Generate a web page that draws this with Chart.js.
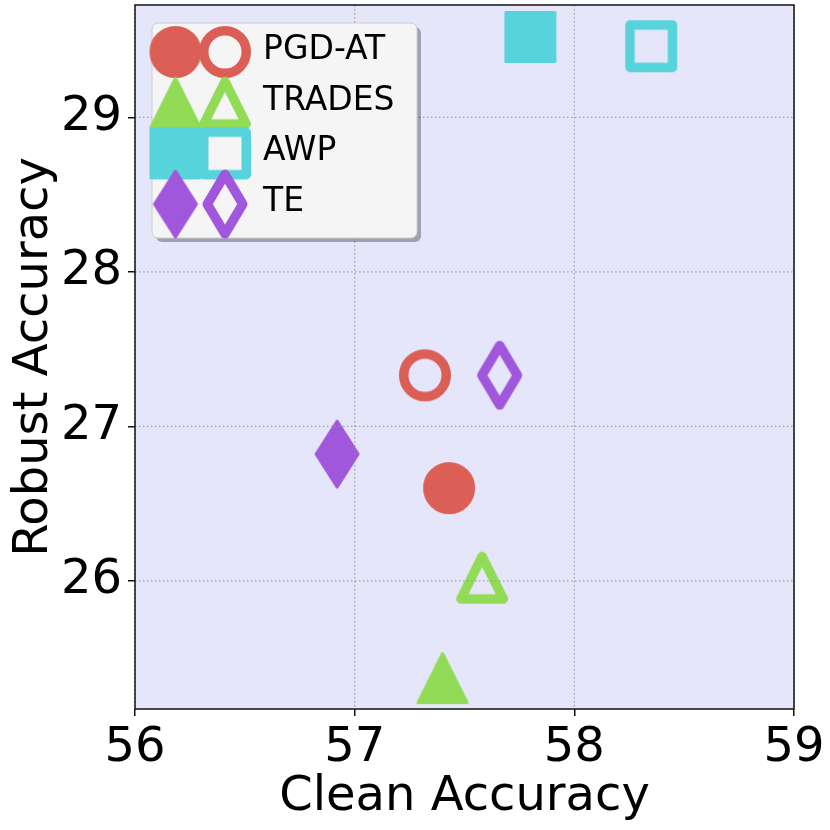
<!DOCTYPE html>
<html lang="en">
<head>
    <meta charset="UTF-8">
    <title>Clean vs Robust Accuracy</title>
    <script src="https://cdn.jsdelivr.net/npm/chart.js"></script>
    <style>
        body {
            margin: 0;
            background: white;
        }

        .chart-box {
            width: 830px;
            height: 830px;
        }
    </style>
</head>
<body>
    <div class="chart-box">
        <canvas id="accChart"></canvas>
    </div>

    <script>
// data
const methods = ['PGD-AT', 'TRADES', 'AWP', 'TE'];
const colors = ['#db5f57', '#91db57', '#57d3db', '#a157db'];
const shapes = ['circle', 'triangle', 'square', 'diamond'];
const baseClean = [57.43, 57.40, 57.80, 56.92];
const baseRobust = [26.60, 25.37, 29.52, 26.82];
const oursClean = [57.32, 57.58, 58.35, 57.66];
const oursRobust = [27.33, 26.02, 29.46, 27.33];
const xTicks = [56, 57, 58, 59];
const yTicks = [26, 27, 28, 29];

const FONT = 'DejaVu Sans';

// matplotlib-like markers drawn once into small canvases
function makeMarker(shape, color, filled) {
    const c = document.createElement('canvas');
    c.width = 80;
    c.height = 80;
    const g = c.getContext('2d');
    g.translate(40, 40);
    g.lineJoin = 'round';
    g.strokeStyle = color;
    g.fillStyle = color;
    const lw = filled ? 3 : 9.5;
    g.lineWidth = lw;
    const ow = shape === 'diamond' ? 45 : 52;
    const oh = shape === 'diamond' ? 69 : 52;
    const hx = (ow - lw) / 2, hy = (oh - lw) / 2;
    g.beginPath();
    if (shape === 'circle') {
        g.arc(0, 0, hx, 0, Math.PI * 2);
    } else if (shape === 'triangle') {
        g.moveTo(0, -hy);
        g.lineTo(hx, hy);
        g.lineTo(-hx, hy);
        g.closePath();
    } else if (shape === 'square') {
        g.rect(-hx, -hy, hx * 2, hy * 2);
    } else {
        g.moveTo(0, -hy);
        g.lineTo(hx, 0);
        g.lineTo(0, hy);
        g.lineTo(-hx, 0);
        g.closePath();
    }
    if (filled) g.fill();
    g.stroke();
    return c;
}

const filledMarks = shapes.map((s, i) => makeMarker(s, colors[i], true));
const openMarks = shapes.map((s, i) => makeMarker(s, colors[i], false));

// lavender plot background
const plotBg = {
    id: 'plotBg',
    beforeDraw(chart) {
        const { ctx, chartArea: a } = chart;
        ctx.save();
        ctx.fillStyle = '#e6e6fa';
        ctx.fillRect(a.left, a.top, a.right - a.left, a.bottom - a.top);
        ctx.restore();
    }
};

function roundRect(ctx, x, y, w, h, r) {
    ctx.beginPath();
    ctx.moveTo(x + r, y);
    ctx.arcTo(x + w, y, x + w, y + h, r);
    ctx.arcTo(x + w, y + h, x, y + h, r);
    ctx.arcTo(x, y + h, x, y, r);
    ctx.arcTo(x, y, x + w, y, r);
    ctx.closePath();
}

// grid on top of the markers, then legend, then the box
const overlay = {
    id: 'overlay',
    afterDatasetsDraw(chart) {
        const { ctx, chartArea: a, scales: { x, y } } = chart;
        ctx.save();

        ctx.strokeStyle = 'rgba(150, 150, 150, 0.85)';
        ctx.lineWidth = 1.3;
        ctx.setLineDash([1.5, 2.5]);
        xTicks.forEach(v => {
            const px = x.getPixelForValue(v);
            ctx.beginPath();
            ctx.moveTo(px, a.top);
            ctx.lineTo(px, a.bottom);
            ctx.stroke();
        });
        yTicks.forEach(v => {
            const py = y.getPixelForValue(v);
            ctx.beginPath();
            ctx.moveTo(a.left, py);
            ctx.lineTo(a.right, py);
            ctx.stroke();
        });
        ctx.setLineDash([]);

        // legend
        const lx = 152, ly = 23, lw = 265, lh = 215;
        ctx.fillStyle = 'rgba(0, 0, 0, 0.3)';
        roundRect(ctx, lx + 4, ly + 4, lw, lh, 6);
        ctx.fill();
        ctx.fillStyle = '#f5f5f5';
        roundRect(ctx, lx, ly, lw, lh, 6);
        ctx.fill();
        ctx.strokeStyle = '#cccccc';
        ctx.lineWidth = 1;
        ctx.stroke();

        ctx.font = '33px "' + FONT + '"';
        ctx.fillStyle = 'black';
        ctx.textBaseline = 'middle';
        ctx.textAlign = 'left';
        methods.forEach((m, i) => {
            const ry = 52 + 50.7 * i;
            ctx.drawImage(filledMarks[i], 175.5 - 40, ry - 40);
            ctx.drawImage(openMarks[i], 225 - 40, ry - 40);
            ctx.fillText(m, 263, ry - 1.5);
        });

        ctx.strokeStyle = '#111111';
        ctx.lineWidth = 1.5;
        ctx.strokeRect(a.left, a.top, a.right - a.left, a.bottom - a.top);
        ctx.restore();
    }
};

const tickFont = { family: FONT, size: 48 };
const titleFont = { family: FONT, size: 48 };

const accCtx = document.getElementById('accChart').getContext('2d');
const accChart = new Chart(accCtx, {
    type: 'scatter',
    data: {
        datasets: [{
            label: 'baseline',
            data: baseClean.map((v, i) => ({ x: v, y: baseRobust[i] })),
            pointStyle: filledMarks,
            pointRadius: 26,
            backgroundColor: colors,
            borderColor: colors
        }, {
            label: 'ours',
            data: oursClean.map((v, i) => ({ x: v, y: oursRobust[i] })),
            pointStyle: openMarks,
            pointRadius: 26,
            backgroundColor: colors,
            borderColor: colors
        }]
    },
    options: {
        responsive: true,
        maintainAspectRatio: false,
        animation: false,
        layout: {
            autoPadding: false,
            padding: { top: 5, right: 36, left: 0, bottom: 0 }
        },
        plugins: {
            legend: { display: false },
            tooltip: { enabled: false }
        },
        scales: {
            x: {
                type: 'linear',
                min: 56,
                max: 59,
                afterBuildTicks: s => { s.ticks = xTicks.map(v => ({ value: v })); },
                afterFit: s => { s.height = 121; s.paddingLeft = 0; s.paddingRight = 0; },
                ticks: {
                    font: tickFont,
                    color: 'black',
                    padding: 4,
                    maxRotation: 0
                },
                grid: {
                    drawOnChartArea: false,
                    tickLength: 7,
                    tickColor: '#111111',
                    lineWidth: 1.5
                },
                border: { display: false },
                title: {
                    display: true,
                    text: 'Clean Accuracy',
                    font: titleFont,
                    color: 'black',
                    padding: { top: 0, bottom: 4 }
                }
            },
            y: {
                type: 'linear',
                min: 25.17,
                max: 29.727,
                afterBuildTicks: s => { s.ticks = yTicks.map(v => ({ value: v })); },
                afterFit: s => { s.width = 135; s.paddingTop = 0; s.paddingBottom = 0; },
                ticks: {
                    font: tickFont,
                    color: 'black',
                    padding: 6
                },
                grid: {
                    drawOnChartArea: false,
                    tickLength: 7,
                    tickColor: '#111111',
                    lineWidth: 1.5
                },
                border: { display: false },
                title: {
                    display: true,
                    text: 'Robust Accuracy',
                    font: titleFont,
                    color: 'black',
                    padding: { top: 6, bottom: 0 }
                }
            }
        }
    },
    plugins: [plotBg, overlay]
});
    </script>
</body>
</html>
